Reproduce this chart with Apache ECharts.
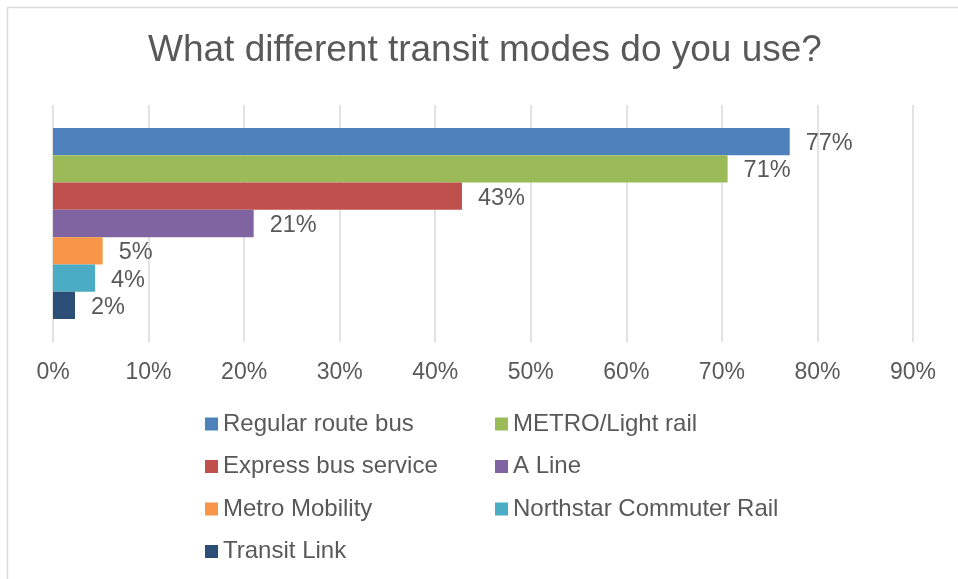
<!DOCTYPE html>
<html>
<head>
<meta charset="utf-8">
<script src="https://cdn.jsdelivr.net/npm/echarts@6/dist/echarts.min.js"></script>
<style>
  html, body { margin: 0; padding: 0; background: #fff; }
  #chart { width: 958px; height: 579px; }
</style>
</head>
<body>
<div id="chart"></div>
<script>
var myChart = echarts.init(document.getElementById('chart'));

// data (percent)
var modes = ['Regular route bus', 'METRO/Light rail', 'Express bus service', 'A Line',
             'Metro Mobility', 'Northstar Commuter Rail', 'Transit Link'];
var shares = [77.1, 70.6, 42.8, 21.0, 5.2, 4.4, 2.3];
var colors = ['#4F81BD', '#9BBB59', '#C0504D', '#8064A2', '#F79646', '#4BACC6', '#2C4D75'];
var tickMax = 90;
var leftCol = ['Regular route bus', 'Express bus service', 'Metro Mobility', 'Transit Link'];
var rightCol = ['METRO/Light rail', 'A Line', 'Northstar Commuter Rail'];

var font = '"Liberation Sans", Arial, sans-serif';
var txt = '#595959';

var series = [];
for (var i = 0; i < modes.length; ++i) {
    series.push({
        name: modes[i],
        type: 'bar',
        barGap: 0,
        barCategoryGap: '19.4%',
        itemStyle: { color: colors[i] },
        label: {
            show: true,
            position: 'right',
            distance: 16,
            offset: [0, 2],
            color: txt,
            fontFamily: font,
            fontSize: 23.5,
            formatter: function (p) { return Math.round(p.value) + '%'; }
        },
        data: [shares[i]]
    });
}

function legendCol(names, left) {
    return {
        orient: 'vertical',
        left: left,
        top: 412,
        padding: 0,
        itemWidth: 13,
        itemHeight: 13,
        itemGap: 18.5,
        icon: 'rect',
        data: names,
        textStyle: { color: txt, fontFamily: font, fontSize: 24, lineHeight: 24, padding: 0 }
    };
}

myChart.setOption({
    animation: false,
    title: {
        text: 'What different transit modes do you use?',
        left: 148,
        top: 32,
        textStyle: { color: txt, fontFamily: font, fontSize: 37, fontWeight: 'normal', lineHeight: 37 },
        padding: 0
    },
    legend: [legendCol(leftCol, 205), legendCol(rightCol, 495)],
    grid: { left: 53, right: 45, top: 105, bottom: 237 },
    xAxis: {
        type: 'value',
        min: 0,
        max: tickMax,
        interval: 10,
        axisLine: { show: false },
        axisTick: { show: false },
        splitLine: { show: true, lineStyle: { color: '#D9D9D9', width: 1.5 } },
        axisLabel: {
            margin: 19,
            color: txt,
            fontFamily: font,
            fontSize: 23,
            formatter: '{value}%'
        }
    },
    yAxis: {
        type: 'category',
        data: [''],
        axisLine: { show: false },
        axisTick: { show: false },
        axisLabel: { show: false }
    },
    graphic: [{
        type: 'rect',
        shape: { x: 7.5, y: 7.5, width: 1000, height: 1000 },
        style: { fill: 'none', stroke: '#D9D9D9', lineWidth: 1.5 },
        silent: true
    }],
    series: series
});
</script>
</body>
</html>
